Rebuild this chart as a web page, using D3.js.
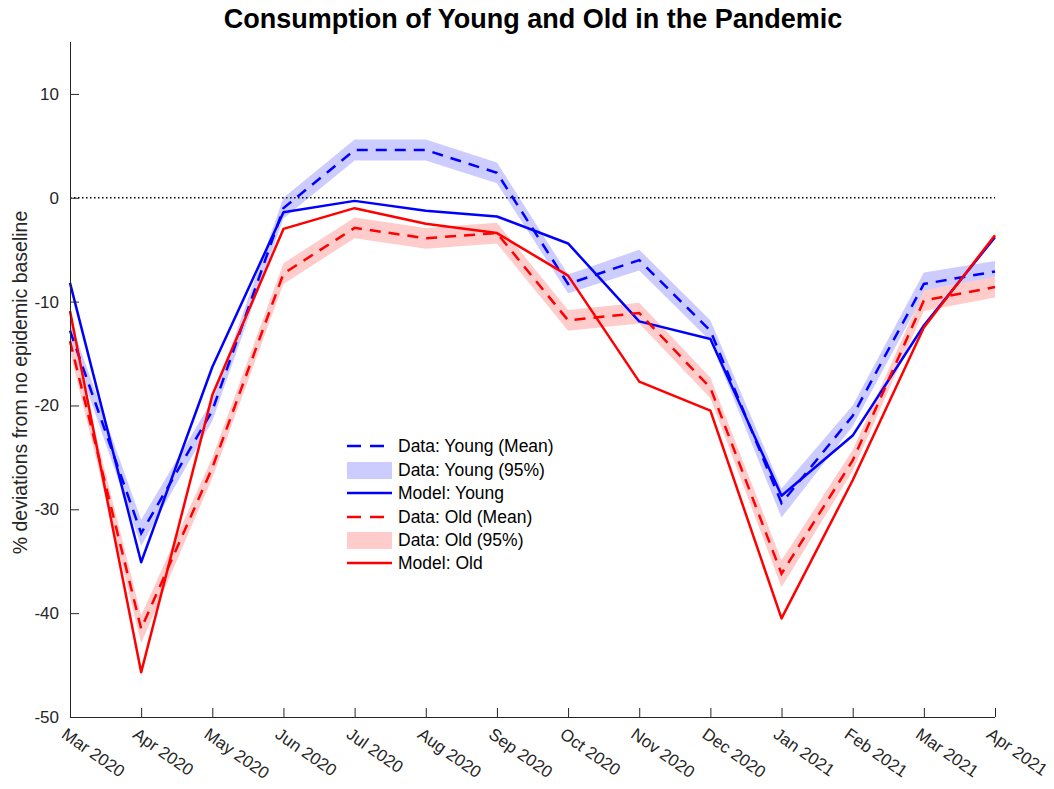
<!DOCTYPE html>
<html><head><meta charset="utf-8">
<script src="https://cdn.jsdelivr.net/npm/d3@7"></script>
<style>body{margin:0;background:#fff;} svg{display:block;font-family:"Liberation Sans",Arial,sans-serif;}</style>
</head><body>
<svg id="c" width="1054" height="789"></svg>
<script>
const months = ["Mar 2020","Apr 2020","May 2020","Jun 2020","Jul 2020","Aug 2020","Sep 2020","Oct 2020","Nov 2020","Dec 2020","Jan 2021","Feb 2021","Mar 2021","Apr 2021"];
const youngMean  = [-12.8,-32.3,-20.5,-1.0, 4.6, 4.6, 2.4,-8.3,-6.0,-12.8,-29.4,-21.0,-8.3,-7.1];
const youngUpper = [-11.8,-31.0,-19.5, 0.0, 5.6, 5.6, 3.4,-7.4,-5.0,-11.8,-28.0,-20.0,-7.2,-6.1];
const youngLower = [-13.8,-33.5,-21.5,-2.0, 3.6, 3.6, 1.4,-9.2,-7.0,-13.8,-30.8,-22.0,-9.3,-8.1];
const youngModel = [-8.2,-35.1,-16.3,-1.4,-0.3,-1.25,-1.8,-4.4,-11.9,-13.6,-28.7,-22.9,-12.3,-3.8];
const oldMean    = [-13.8,-41.5,-26.0,-7.3,-2.9,-3.9,-3.4,-11.8,-11.1,-18.3,-36.2,-25.3,-9.9,-8.6];
const oldUpper   = [-12.8,-40.2,-25.0,-6.3,-1.9,-2.9,-2.4,-10.8,-10.1,-17.3,-34.9,-24.3,-8.9,-7.6];
const oldLower   = [-14.8,-42.9,-27.0,-8.3,-3.9,-4.9,-4.4,-12.8,-12.1,-19.3,-37.5,-26.3,-10.9,-9.6];
const oldModel   = [-10.9,-45.7,-19.0,-3.0,-1.0,-2.5,-3.4,-7.5,-17.7,-20.5,-40.5,-27.2,-12.5,-3.6];
const yTicks = [-50,-40,-30,-20,-10,0,10];
const legendLabels = ["Data: Young (Mean)","Data: Young (95%)","Model: Young","Data: Old (Mean)","Data: Old (95%)","Model: Old"];

const svg = d3.select("#c");
const L=70,R=995,T=42,B=717;
const x = d3.scalePoint().domain(months).range([L,R]);
const y = d3.scaleLinear().domain([-50,15]).range([B,T]);
const BLUE="#0000ff", RED="#ff0000", BBAND="#ccccff", RBAND="#ffcccc", AX="#262626";
const DASH="11,8";
const FONT="'Liberation Sans',Arial,sans-serif";

const area = (up,lo)=>d3.area().x((d,i)=>x(months[i])).y0((d,i)=>y(lo[i])).y1((d,i)=>y(up[i]))(months);
const line = arr=>d3.line().x((d,i)=>x(months[i])).y(d=>y(d))(arr);

const g = svg.append("g");
g.append("path").attr("d",area(youngUpper,youngLower)).attr("fill",BBAND);
g.append("path").attr("d",area(oldUpper,oldLower)).attr("fill",RBAND);
g.append("line").attr("x1",L).attr("x2",R).attr("y1",y(0)).attr("y2",y(0))
  .attr("stroke","#000").attr("stroke-width",1.5).attr("stroke-dasharray","1.5,2.5");
g.append("path").attr("d",line(youngMean)).attr("fill","none").attr("stroke",BLUE).attr("stroke-width",2.5).attr("stroke-dasharray",DASH);
g.append("path").attr("d",line(youngModel)).attr("fill","none").attr("stroke",BLUE).attr("stroke-width",2.5).attr("stroke-linejoin","round");
g.append("path").attr("d",line(oldMean)).attr("fill","none").attr("stroke",RED).attr("stroke-width",2.5).attr("stroke-dasharray",DASH);
g.append("path").attr("d",line(oldModel)).attr("fill","none").attr("stroke",RED).attr("stroke-width",2.5).attr("stroke-linejoin","round");

// axes
const yAxis = svg.append("g").attr("transform",`translate(${L},0)`)
  .call(d3.axisLeft(y).tickValues(yTicks).tickSize(-9).tickPadding(11).tickFormat(d=>String(d)));
const xAxis = svg.append("g").attr("transform",`translate(0,${B})`)
  .call(d3.axisBottom(x).tickSize(-9).tickPadding(0));
[yAxis,xAxis].forEach(a=>{
  a.select(".domain").attr("stroke",AX).attr("stroke-width",1);
  a.selectAll(".tick line").attr("stroke",AX);
  a.selectAll("text").attr("fill",AX).style("font-size","17px").style("font-family",FONT);
});
yAxis.select(".domain").attr("d",`M0.5,${B}V${T}`);
xAxis.select(".domain").attr("d",`M${L},0.5H${R}`);
xAxis.selectAll(".tick text").attr("text-anchor","start").attr("dy",null)
  .attr("dominant-baseline","hanging")
  .attr("transform","translate(-3,10) rotate(35)").attr("y",0).attr("x",0);

// title
svg.append("text").attr("x",533).attr("y",28).attr("text-anchor","middle")
  .style("font-size","27px").style("font-weight","bold").style("font-family",FONT).attr("fill","#000")
  .text("Consumption of Young and Old in the Pandemic");
// y label
svg.append("text").attr("transform",`translate(27,${(T+B)/2+3}) rotate(-90)`).attr("text-anchor","middle")
  .style("font-size","19.5px").style("font-family",FONT).attr("fill",AX).text("% deviations from no epidemic baseline");

// legend
const lg = svg.append("g");
const rows=[446,470,493,517,540,563];
const styles=[{t:"l",c:BLUE,d:DASH},{t:"p",c:BBAND},{t:"l",c:BLUE},{t:"l",c:RED,d:DASH},{t:"p",c:RBAND},{t:"l",c:RED}];
styles.forEach((s,i)=>{
  const yy=rows[i];
  if(s.t==="l"){
    lg.append("line").attr("x1",347).attr("x2",392).attr("y1",yy).attr("y2",yy)
      .attr("stroke",s.c).attr("stroke-width",2.5).attr("stroke-dasharray",s.d?"14,9":null);
  } else {
    lg.append("rect").attr("x",347).attr("y",yy-8).attr("width",45).attr("height",17).attr("fill",s.c);
  }
  lg.append("text").attr("x",398).attr("y",yy).attr("dy","0.35em").style("font-size","17.5px").style("font-family",FONT).attr("fill","#000").text(legendLabels[i]);
});
</script>
</body></html>
